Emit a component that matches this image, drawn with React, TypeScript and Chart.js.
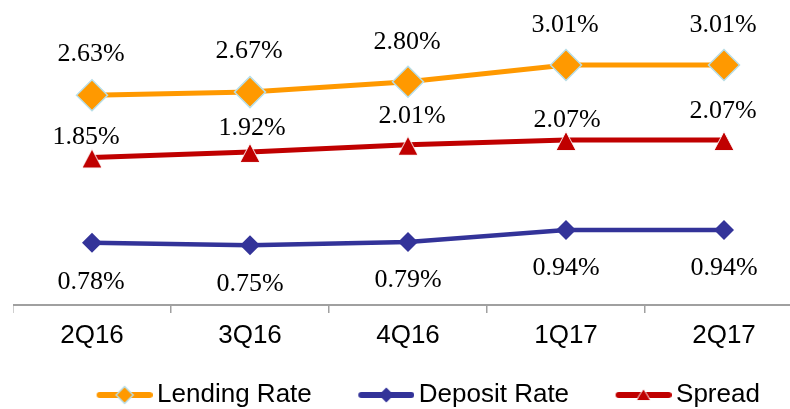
import { useEffect, useRef } from 'react';
import { Chart, registerables } from 'chart.js';

Chart.register(...registerables);

const categories = ['2Q16', '3Q16', '4Q16', '1Q17', '2Q17'];
const lendingRate = [2.63, 2.67, 2.8, 3.01, 3.01];
const depositRate = [0.78, 0.75, 0.79, 0.94, 0.94];
const spreadRate = [1.85, 1.92, 2.01, 2.07, 2.07];
const seriesNames = ['Lending Rate', 'Deposit Rate', 'Spread'];

// label placement (pixels relative to each point)
const labelDx = [
  [-1, -1, -1, -1, -1],
  [-1, 0, 0, 0, 0],
  [-6, 2, 4, 1, -1],
];
const labelDy = [
  [-41, -41, -40, -40, -40],
  [39, 39, 38, 38, 38],
  [-20, -24, -29, -20, -29],
];

const ORANGE = '#FF9900';
const NAVY = '#333399';
const RED = '#C00000';
const LIGHTBLUE = '#B7DEE8';
const AXIS = '#A0A0A0';

function mk(w: number, h: number) {
  const c = document.createElement('canvas');
  c.width = w;
  c.height = h;
  return c;
}

function diamond(ctx: CanvasRenderingContext2D, x: number, y: number, r: number, fill: string, stroke: string, sw: number) {
  ctx.beginPath();
  ctx.moveTo(x - r, y);
  ctx.lineTo(x, y - r);
  ctx.lineTo(x + r, y);
  ctx.lineTo(x, y + r);
  ctx.closePath();
  ctx.fillStyle = fill;
  ctx.fill();
  if (sw > 0) {
    ctx.strokeStyle = stroke;
    ctx.lineWidth = sw;
    ctx.stroke();
  }
}

function triangle(ctx: CanvasRenderingContext2D, x: number, top: number, bottom: number, halfW: number, fill: string, stroke: string, sw: number) {
  ctx.beginPath();
  ctx.moveTo(x, top);
  ctx.lineTo(x + halfW, bottom);
  ctx.lineTo(x - halfW, bottom);
  ctx.closePath();
  ctx.fillStyle = fill;
  ctx.fill();
  if (sw > 0) {
    ctx.strokeStyle = stroke;
    ctx.lineWidth = sw;
    ctx.stroke();
  }
}

function triangleMarker() {
  const c = mk(24, 24);
  const ctx = c.getContext('2d')!;
  triangle(ctx, 12, 3.5, 22.5, 10, RED, 'rgba(255,255,255,0.9)', 1);
  return c;
}

function legendImage(kind: number) {
  const c = mk(101, 20);
  const ctx = c.getContext('2d')!;
  const color = kind === 0 ? ORANGE : kind === 1 ? NAVY : RED;
  ctx.strokeStyle = color;
  ctx.lineWidth = 6;
  ctx.lineCap = 'round';
  ctx.beginPath();
  ctx.moveTo(48, 10);
  ctx.lineTo(98, 10);
  ctx.stroke();
  if (kind === 0) diamond(ctx, 73, 10, 8.5, ORANGE, LIGHTBLUE, 1.5);
  else if (kind === 1) diamond(ctx, 73, 10, 7.5, NAVY, NAVY, 0);
  else triangle(ctx, 73, 4, 15.5, 7, RED, 'rgba(255,255,255,0.9)', 1);
  return c;
}

const valueLabels = {
  id: 'valueLabels',
  afterDatasetsDraw(chart: any) {
    const ctx = chart.ctx as CanvasRenderingContext2D;
    ctx.save();
    ctx.font = '26px "Liberation Serif", "Times New Roman", serif';
    ctx.fillStyle = '#000';
    ctx.textAlign = 'center';
    ctx.textBaseline = 'middle';
    chart.data.datasets.forEach((ds: any, di: number) => {
      const meta = chart.getDatasetMeta(di);
      meta.data.forEach((pt: any, i: number) => {
        const v = ds.data[i] as number;
        ctx.fillText(v.toFixed(2) + '%', pt.x + labelDx[di][i], pt.y + labelDy[di][i]);
      });
    });
    ctx.restore();
  },
};

export default function App() {
  const ref = useRef<HTMLCanvasElement>(null);

  useEffect(() => {
    const legendImgs = [legendImage(0), legendImage(1), legendImage(2)];
    const triImg = triangleMarker();
    const chart = new Chart(ref.current!, {
      type: 'line',
      data: {
        labels: categories,
        datasets: [
          {
            label: seriesNames[0],
            data: lendingRate,
            borderColor: ORANGE,
            borderWidth: 5,
            pointStyle: 'rectRot',
            pointRadius: 15.5,
            pointBackgroundColor: ORANGE,
            pointBorderColor: LIGHTBLUE,
            pointBorderWidth: 1.5,
            tension: 0,
            clip: false,
          },
          {
            label: seriesNames[1],
            data: depositRate,
            borderColor: NAVY,
            borderWidth: 4.5,
            pointStyle: 'rectRot',
            pointRadius: 10,
            pointBackgroundColor: NAVY,
            pointBorderColor: NAVY,
            pointBorderWidth: 0,
            tension: 0,
            clip: false,
          },
          {
            label: seriesNames[2],
            data: spreadRate,
            borderColor: RED,
            borderWidth: 5,
            pointStyle: triImg as any,
            pointRadius: 11,
            pointBackgroundColor: RED,
            pointBorderColor: RED,
            tension: 0,
            clip: false,
          },
        ],
      },
      options: {
        animation: false,
        responsive: false,
        devicePixelRatio: 1,
        layout: { autoPadding: false, padding: { top: 2, left: 0, right: 0, bottom: 0 } },
        plugins: {
          tooltip: { enabled: false },
          legend: {
            position: 'bottom',
            labels: {
              usePointStyle: true,
              pointStyleWidth: 84,
              padding: 10,
              color: '#000',
              font: { family: '"Liberation Sans", Arial, sans-serif', size: 26 },
              generateLabels: (c: any) => {
                const items = (Chart.defaults.plugins.legend.labels as any).generateLabels(c);
                items.forEach((it: any, i: number) => {
                  it.pointStyle = legendImgs[i];
                });
                return items;
              },
            },
          },
        },
        scales: {
          x: {
            offset: true,
            grid: {
              offset: true,
              drawOnChartArea: false,
              drawTicks: true,
              tickLength: 8,
              color: AXIS,
              lineWidth: 1.5,
            },
            border: { display: true, color: AXIS, width: 2 },
            ticks: {
              color: '#000',
              padding: 7,
              font: { family: '"Liberation Sans", Arial, sans-serif', size: 26 },
            },
            afterFit: (s: any) => {
              s.height = 67;
            },
          },
          y: {
            position: 'right',
            min: 0,
            max: 3.8,
            display: true,
            grid: { display: false },
            border: { display: false },
            ticks: { display: false },
            afterFit: (s: any) => {
              s.width = 4;
            },
          },
        },
      },
      plugins: [valueLabels],
    });
    return () => chart.destroy();
  }, []);

  return (
    <div
      style={{
        position: 'fixed',
        left: 0,
        top: 0,
        width: 790,
        height: 409,
        overflow: 'hidden',
        background: '#fff',
      }}
    >
      <canvas
        ref={ref}
        width={794}
        height={418}
        style={{ position: 'absolute', left: 13, top: 0, width: 794, height: 418 }}
      />
    </div>
  );
}
